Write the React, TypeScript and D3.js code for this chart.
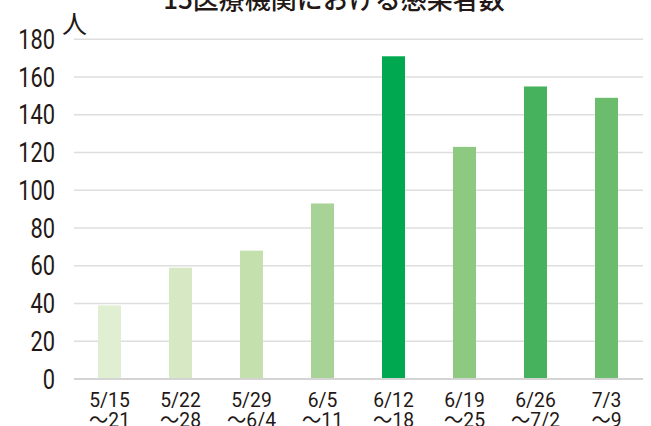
import React from 'react';
import { scaleBand, scaleLinear, range } from 'd3';

const width = 651;
const height = 426;

// data
const weeks = ['5/15', '5/22', '5/29', '6/5', '6/12', '6/19', '6/26', '7/3'];
const weekEnds = ['〜21', '〜28', '〜6/4', '〜11', '〜18', '〜25', '〜7/2', '〜9'];
const cases = [39, 59, 68, 93, 171, 123, 155, 149];
const barColors = ['#e0eed1', '#d6e8c4', '#c3e0ad', '#a7d397', '#00a84f', '#8ec981', '#46b25d', '#6cbc6e'];
const yTicks = range(0, 181, 20);

const title = '15医療機関における感染者数';
const unit = '人';

const textColor = '#231815';

const App = () => {
  const xScale = scaleBand<string>()
    .domain(weeks)
    .range([74, 642])
    .paddingInner(0.676)
    .paddingOuter(0.338);

  const yScale = scaleLinear()
    .domain([0, 180])
    .range([379, 39.3]);

  return (
    <svg width={width} height={height}
      style={{ position: 'absolute', left: 0, top: 0, background: '#fff' }}
      fontFamily="Roboto, 'Noto Sans CJK JP', sans-serif">
      {/* title, cut at the top like the original */}
      <text x={334} y={9} textAnchor="middle" fontSize={26} fontWeight={500}
        fill={textColor} fontFamily="'Noto Sans CJK JP', sans-serif">{title}</text>

      {/* gridlines */}
      {yTicks.map(t => (
        <line key={t} x1={74} x2={643} y1={yScale(t)} y2={yScale(t)}
          stroke={t === 0 ? '#d4d4d4' : '#dedede'} strokeWidth={t === 0 ? 2 : 1.5} />
      ))}

      {/* y tick labels, narrow */}
      {yTicks.map(t => (
        <text key={'l' + t} transform={`translate(55,${yScale(t) + 9.5}) scale(0.78,1)`}
          textAnchor="end" fontSize={28} fill={textColor}>{t}</text>
      ))}
      <text x={62} y={33} fontSize={25} fill={textColor}
        fontFamily="'Noto Sans CJK JP', sans-serif">{unit}</text>

      {/* bars */}
      {weeks.map((w, i) => (
        <rect key={w} x={xScale(w)} y={yScale(cases[i])}
          width={xScale.bandwidth()} height={yScale(0) - yScale(cases[i]) - 1}
          fill={barColors[i]} />
      ))}

      {/* x labels, two lines */}
      {weeks.map((w, i) => {
        const cx = (xScale(w) as number) + xScale.bandwidth() / 2;
        return (
          <g key={'x' + w} transform={`translate(${cx},0) scale(0.92,1)`}>
            <text x={0} y={407} textAnchor="middle" fontSize={21} fill={textColor}>{w}</text>
            <text x={0} y={427} textAnchor="middle" fontSize={21} fill={textColor}>{weekEnds[i]}</text>
          </g>
        );
      })}
    </svg>
  );
};

export default App;
